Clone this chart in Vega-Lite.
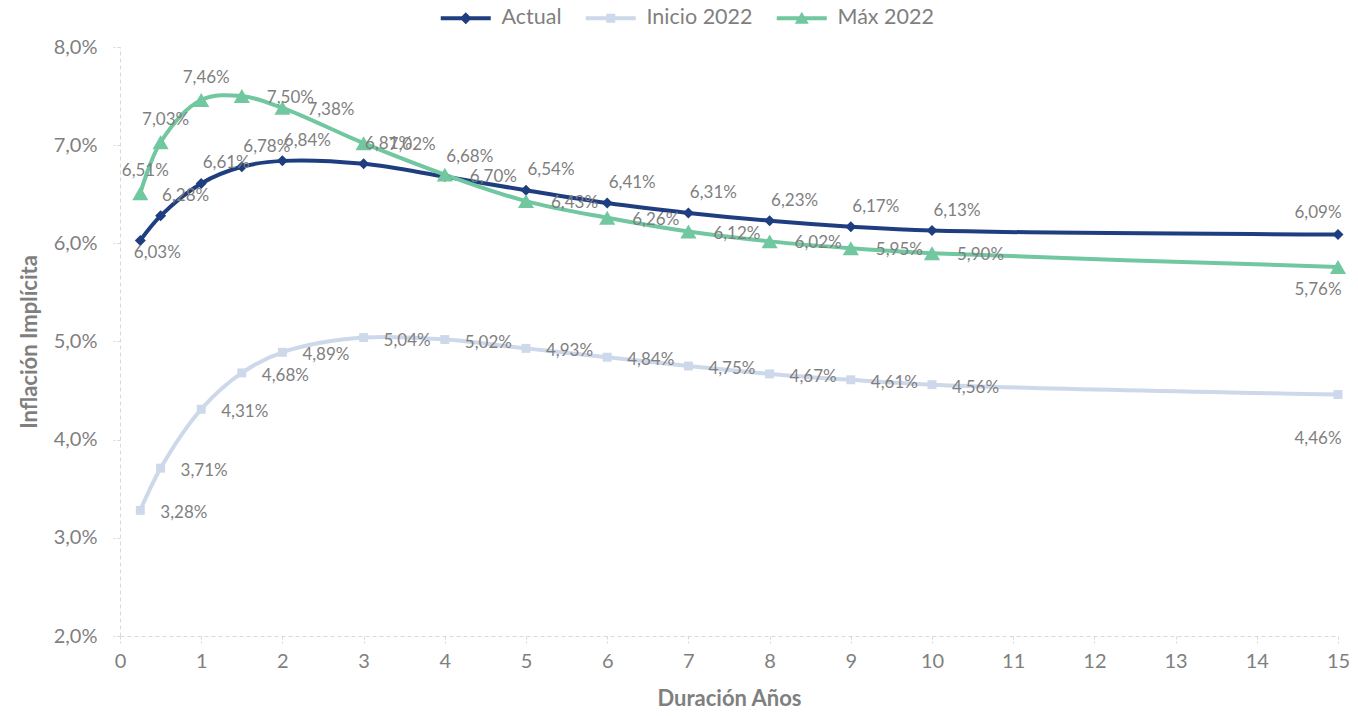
{
  "$schema": "https://vega.github.io/schema/vega-lite/v6.json",
  "width": 1218,
  "height": 589,
  "autosize": {"type": "none"},
  "padding": {"left": 120, "top": 47, "right": 20, "bottom": 80},
  "background": "white",
  "config": {
    "locale": {"number": {"decimal": ",", "thousands": ".", "grouping": [3], "currency": ["", " €"]}},
    "font": "Lato",
    "view": {"stroke": null},
    "text": {"font": "Lato", "fontSize": 17, "fill": "#7f7f7f"}
  },
  "data": {
    "values": [
      {"serie": "Actual", "duracion": 0.25, "inflacion": 0.0603},
      {"serie": "Actual", "duracion": 0.5, "inflacion": 0.0628},
      {"serie": "Actual", "duracion": 1, "inflacion": 0.0661},
      {"serie": "Actual", "duracion": 1.5, "inflacion": 0.0678},
      {"serie": "Actual", "duracion": 2, "inflacion": 0.0684},
      {"serie": "Actual", "duracion": 3, "inflacion": 0.0681},
      {"serie": "Actual", "duracion": 4, "inflacion": 0.0668},
      {"serie": "Actual", "duracion": 5, "inflacion": 0.0654},
      {"serie": "Actual", "duracion": 6, "inflacion": 0.0641},
      {"serie": "Actual", "duracion": 7, "inflacion": 0.0631},
      {"serie": "Actual", "duracion": 8, "inflacion": 0.0623},
      {"serie": "Actual", "duracion": 9, "inflacion": 0.0617},
      {"serie": "Actual", "duracion": 10, "inflacion": 0.0613},
      {"serie": "Actual", "duracion": 15, "inflacion": 0.0609},
      {"serie": "Inicio 2022", "duracion": 0.25, "inflacion": 0.0328},
      {"serie": "Inicio 2022", "duracion": 0.5, "inflacion": 0.0371},
      {"serie": "Inicio 2022", "duracion": 1, "inflacion": 0.0431},
      {"serie": "Inicio 2022", "duracion": 1.5, "inflacion": 0.0468},
      {"serie": "Inicio 2022", "duracion": 2, "inflacion": 0.0489},
      {"serie": "Inicio 2022", "duracion": 3, "inflacion": 0.0504},
      {"serie": "Inicio 2022", "duracion": 4, "inflacion": 0.0502},
      {"serie": "Inicio 2022", "duracion": 5, "inflacion": 0.0493},
      {"serie": "Inicio 2022", "duracion": 6, "inflacion": 0.0484},
      {"serie": "Inicio 2022", "duracion": 7, "inflacion": 0.0475},
      {"serie": "Inicio 2022", "duracion": 8, "inflacion": 0.0467},
      {"serie": "Inicio 2022", "duracion": 9, "inflacion": 0.0461},
      {"serie": "Inicio 2022", "duracion": 10, "inflacion": 0.0456},
      {"serie": "Inicio 2022", "duracion": 15, "inflacion": 0.0446},
      {"serie": "Máx 2022", "duracion": 0.25, "inflacion": 0.0651},
      {"serie": "Máx 2022", "duracion": 0.5, "inflacion": 0.0703},
      {"serie": "Máx 2022", "duracion": 1, "inflacion": 0.0746},
      {"serie": "Máx 2022", "duracion": 1.5, "inflacion": 0.0750},
      {"serie": "Máx 2022", "duracion": 2, "inflacion": 0.0738},
      {"serie": "Máx 2022", "duracion": 3, "inflacion": 0.0702},
      {"serie": "Máx 2022", "duracion": 4, "inflacion": 0.0670},
      {"serie": "Máx 2022", "duracion": 5, "inflacion": 0.0643},
      {"serie": "Máx 2022", "duracion": 6, "inflacion": 0.0626},
      {"serie": "Máx 2022", "duracion": 7, "inflacion": 0.0612},
      {"serie": "Máx 2022", "duracion": 8, "inflacion": 0.0602},
      {"serie": "Máx 2022", "duracion": 9, "inflacion": 0.0595},
      {"serie": "Máx 2022", "duracion": 10, "inflacion": 0.0590},
      {"serie": "Máx 2022", "duracion": 15, "inflacion": 0.0576}
    ]
  },
  "encoding": {
    "x": {
      "field": "duracion", "type": "quantitative",
      "scale": {"domain": [0, 15], "nice": false, "zero": false},
      "axis": {
        "title": "Duración Años", "values": [0,1,2,3,4,5,6,7,8,9,10,11,12,13,14,15], "format": "d",
        "grid": false, "labelFontSize": 20, "labelColor": "#7f7f7f", "labelPadding": 8, "labelFlush": false,
        "domainColor": "#d9d9d9", "domainDash": [4, 3], "domainWidth": 1,
        "tickColor": "#d9d9d9", "tickDash": [3, 2], "tickSize": 7,
        "titleFontSize": 22, "titleFontWeight": "bold", "titleColor": "#7f7f7f", "titlePadding": 17, "titleFont": "Lato"
      }
    },
    "y": {
      "field": "inflacion", "type": "quantitative",
      "scale": {"domain": [0.02, 0.08], "nice": false, "zero": false},
      "axis": {
        "title": "Inflación Implícita", "values": [0.02,0.03,0.04,0.05,0.06,0.07,0.08], "format": ".1%",
        "grid": false, "labelFontSize": 20, "labelColor": "#7f7f7f", "labelPadding": 16,
        "domainColor": "#d9d9d9", "domainDash": [4, 3], "domainWidth": 1,
        "tickColor": "#d9d9d9", "tickDash": [3, 2], "tickSize": 7,
        "titleFontSize": 22, "titleFontWeight": "bold", "titleColor": "#7f7f7f", "titlePadding": 12, "titleFont": "Lato"
      }
    }
  },
  "layer": [
    {
      "mark": {"type": "line", "interpolate": "catmull-rom", "strokeWidth": 4},
      "encoding": {
        "color": {"field": "serie", "type": "nominal",
          "scale": {"domain": ["Actual", "Inicio 2022", "Máx 2022"], "range": ["#1f3e80", "#cdd8ea", "#70c7a0"]},
          "legend": {"title": null, "orient": "none", "direction": "horizontal", "legendX": 335, "legendY": -40,
            "labelFontSize": 21.5, "labelColor": "#7f7f7f", "labelFont": "Lato", "labelOffset": 25, "columnPadding": 23,
            "symbolSize": 100,
            "encode": {"symbols": {"update": {"fill": {"scale": "color", "field": "value"}, "strokeWidth": {"value": 0}}}}}}
      }
    },
    {
      "transform": [{"filter": "datum.serie === 'Inicio 2022'"}],
      "mark": {"type": "point", "shape": "square", "filled": true, "size": 80, "opacity": 1, "color": "#cdd8ea"}
    },
    {
      "transform": [{"filter": "datum.serie === 'Actual'"}],
      "mark": {"type": "point", "shape": "diamond", "filled": true, "size": 121, "opacity": 1, "color": "#1f3e80"}
    },
    {
      "transform": [{"filter": "datum.serie === 'Máx 2022'"}],
      "mark": {"type": "point", "shape": "triangle-up", "filled": true, "size": 260, "opacity": 1, "color": "#70c7a0"}
    },
    {
      "mark": {"type": "point", "filled": true, "opacity": 1, "size": 100, "clip": true, "xOffset": -5000},
      "encoding": {
        "shape": {"field": "serie", "type": "nominal",
          "scale": {"domain": ["Actual", "Inicio 2022", "Máx 2022"],
            "range": [
              "M-5,-0.4L5,-0.4L5,0.4L-5,0.4Z M0,-1.2L1.2,0L0,1.2L-1.2,0Z",
              "M-5,-0.4L5,-0.4L5,0.4L-5,0.4Z M-0.9,-0.9L0.9,-0.9L0.9,0.9L-0.9,0.9Z",
              "M-5,-0.4L5,-0.4L5,0.4L-5,0.4Z M0,-1.3L1.4,1.1L-1.4,1.1Z"
            ]},
          "legend": {"title": null, "orient": "none", "direction": "horizontal", "legendX": 335, "legendY": -40,
            "labelFontSize": 21.5, "labelColor": "#7f7f7f", "labelFont": "Lato", "labelOffset": 25, "columnPadding": 23,
            "symbolSize": 100}}
      }
    },
    {
      "transform": [{"filter": "datum.serie === 'Actual' && datum.duracion < 0.3"}],
      "mark": {"type": "text", "align": "center", "baseline": "middle", "dx": 17, "dy": 13},
      "encoding": {"text": {"field": "inflacion", "type": "quantitative", "format": ".2%"}}
    },
    {
      "transform": [{"filter": "datum.serie === 'Actual' && datum.duracion > 0.3 && datum.duracion < 14"}],
      "mark": {"type": "text", "align": "center", "baseline": "middle", "dx": 25, "dy": -20},
      "encoding": {"text": {"field": "inflacion", "type": "quantitative", "format": ".2%"}}
    },
    {
      "transform": [{"filter": "datum.serie === 'Actual' && datum.duracion > 14"}],
      "mark": {"type": "text", "align": "center", "baseline": "middle", "dx": -20, "dy": -21},
      "encoding": {"text": {"field": "inflacion", "type": "quantitative", "format": ".2%"}}
    },
    {
      "transform": [{"filter": "datum.serie === 'Inicio 2022' && datum.duracion < 14"}],
      "mark": {"type": "text", "align": "left", "baseline": "middle", "dx": 20, "dy": 3},
      "encoding": {"text": {"field": "inflacion", "type": "quantitative", "format": ".2%"}}
    },
    {
      "transform": [{"filter": "datum.serie === 'Inicio 2022' && datum.duracion > 14"}],
      "mark": {"type": "text", "align": "center", "baseline": "middle", "dx": -20, "dy": 44},
      "encoding": {"text": {"field": "inflacion", "type": "quantitative", "format": ".2%"}}
    },
    {
      "transform": [{"filter": "datum.serie === 'Máx 2022' && datum.duracion <= 1"}],
      "mark": {"type": "text", "align": "center", "baseline": "middle", "dx": 5, "dy": -22},
      "encoding": {"text": {"field": "inflacion", "type": "quantitative", "format": ".2%"}}
    },
    {
      "transform": [{"filter": "datum.serie === 'Máx 2022' && datum.duracion > 1.2 && datum.duracion < 14"}],
      "mark": {"type": "text", "align": "left", "baseline": "middle", "dx": 25, "dy": 2},
      "encoding": {"text": {"field": "inflacion", "type": "quantitative", "format": ".2%"}}
    },
    {
      "transform": [{"filter": "datum.serie === 'Máx 2022' && datum.duracion > 14"}],
      "mark": {"type": "text", "align": "center", "baseline": "middle", "dx": -20, "dy": 23},
      "encoding": {"text": {"field": "inflacion", "type": "quantitative", "format": ".2%"}}
    }
  ]
}
